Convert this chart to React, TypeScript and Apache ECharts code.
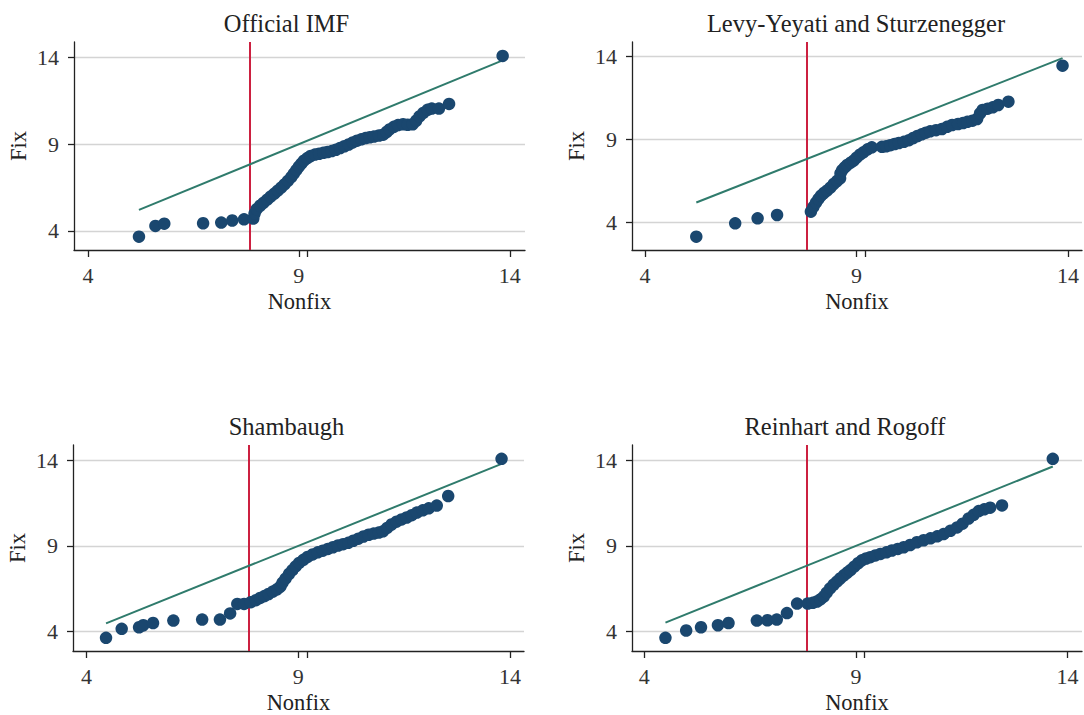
import React, { useEffect, useRef } from "react";
import * as echarts from "echarts";

// ---- Data ----
const titles = ["Official IMF", "Levy-Yeyati and Sturzenegger", "Shambaugh", "Reinhart and Rogoff"];

// Quantile pairs [Nonfix, Fix]
const imfPoints: number[][] = [
  [5.21, 3.67], [5.6, 4.29], [5.81, 4.42], [6.73, 4.44], [7.16, 4.48], [7.42, 4.6], [7.7, 4.67], [7.92, 4.71],
  [7.95, 5.0], [8.0, 5.25], [8.08, 5.45], [8.16, 5.62], [8.25, 5.8], [8.33, 5.98], [8.42, 6.15], [8.5, 6.32],
  [8.58, 6.5], [8.66, 6.68], [8.74, 6.88], [8.82, 7.1], [8.88, 7.3], [8.94, 7.5], [9.0, 7.7], [9.06, 7.88],
  [9.12, 8.05], [9.2, 8.2], [9.28, 8.32], [9.38, 8.4], [9.48, 8.45], [9.58, 8.5], [9.68, 8.55], [9.78, 8.6],
  [9.88, 8.68], [9.98, 8.78], [10.08, 8.88], [10.18, 8.98], [10.28, 9.1], [10.38, 9.2], [10.48, 9.28], [10.58, 9.35],
  [10.68, 9.4], [10.78, 9.44], [10.9, 9.5], [11.0, 9.55], [11.08, 9.7], [11.15, 9.85], [11.25, 10.0], [11.35, 10.1],
  [11.47, 10.15], [11.58, 10.12], [11.7, 10.15], [11.78, 10.35], [11.86, 10.6], [11.95, 10.8], [12.05, 10.98],
  [12.15, 11.05], [12.32, 11.05], [12.56, 11.32], [13.83, 14.09],
];
const lysPoints: number[][] = [
  [5.21, 3.16], [6.13, 3.96], [6.66, 4.26], [7.12, 4.46], [7.92, 4.66], [7.98, 4.95], [8.04, 5.2], [8.1, 5.42],
  [8.16, 5.62], [8.23, 5.78], [8.3, 5.92], [8.38, 6.1], [8.46, 6.32], [8.54, 6.5], [8.61, 6.66], [8.62, 6.95],
  [8.66, 7.15], [8.72, 7.32], [8.78, 7.46], [8.86, 7.6], [8.93, 7.72], [9.0, 7.9], [9.08, 8.08], [9.16, 8.22],
  [9.26, 8.4], [9.36, 8.52], [9.6, 8.55], [9.7, 8.58], [9.8, 8.65], [9.9, 8.72], [10.0, 8.78], [10.12, 8.85],
  [10.24, 8.95], [10.34, 9.08], [10.44, 9.2], [10.54, 9.3], [10.64, 9.4], [10.74, 9.48], [10.88, 9.55], [11.02, 9.62],
  [11.14, 9.75], [11.26, 9.86], [11.4, 9.92], [11.52, 9.98], [11.62, 10.05], [11.74, 10.12], [11.85, 10.22],
  [11.92, 10.55], [11.98, 10.76], [12.1, 10.84], [12.22, 10.92], [12.35, 11.06], [12.59, 11.26], [13.87, 13.42],
];
const shambaughPoints: number[][] = [
  [4.46, 3.61], [4.83, 4.14], [5.24, 4.23], [5.34, 4.35], [5.57, 4.48], [6.05, 4.62], [6.73, 4.68], [7.15, 4.68],
  [7.39, 5.04], [7.56, 5.6], [7.72, 5.6], [7.88, 5.7], [8.0, 5.82], [8.1, 5.95], [8.2, 6.06], [8.3, 6.18],
  [8.4, 6.32], [8.5, 6.46], [8.58, 6.62], [8.63, 6.85], [8.7, 7.08], [8.78, 7.35], [8.86, 7.58], [8.94, 7.8],
  [9.02, 8.0], [9.12, 8.18], [9.22, 8.35], [9.34, 8.5], [9.46, 8.62], [9.58, 8.72], [9.7, 8.82], [9.82, 8.92],
  [9.94, 9.02], [10.06, 9.1], [10.18, 9.18], [10.3, 9.3], [10.42, 9.42], [10.54, 9.55], [10.66, 9.65], [10.78, 9.72],
  [10.9, 9.78], [11.0, 9.85], [11.1, 10.05], [11.2, 10.25], [11.32, 10.42], [11.44, 10.55], [11.56, 10.66],
  [11.68, 10.8], [11.8, 10.95], [11.94, 11.08], [12.08, 11.2], [12.27, 11.36], [12.54, 11.92], [13.8, 14.1],
];
const rrPoints: number[][] = [
  [4.5, 3.61], [4.99, 4.04], [5.34, 4.23], [5.74, 4.35], [5.99, 4.48], [6.66, 4.62], [6.91, 4.64], [7.13, 4.68],
  [7.37, 5.06], [7.61, 5.62], [7.86, 5.62], [7.98, 5.66], [8.08, 5.74], [8.16, 5.86], [8.24, 6.03], [8.31, 6.26],
  [8.39, 6.51], [8.47, 6.72], [8.55, 6.9], [8.63, 7.09], [8.72, 7.28], [8.8, 7.44], [8.87, 7.58], [8.96, 7.78],
  [9.05, 7.98], [9.14, 8.15], [9.24, 8.26], [9.34, 8.34], [9.46, 8.44], [9.58, 8.53], [9.72, 8.62], [9.85, 8.73],
  [9.99, 8.82], [10.13, 8.92], [10.28, 9.05], [10.44, 9.21], [10.6, 9.33], [10.76, 9.44], [10.92, 9.56], [11.07, 9.69],
  [11.23, 9.88], [11.39, 10.08], [11.52, 10.3], [11.66, 10.6], [11.78, 10.82], [11.9, 11.04], [12.03, 11.14],
  [12.17, 11.24], [12.45, 11.37], [13.65, 14.1],
];

const tickLabels = [4, 9, 14];
const extraXTick = 9.2;
const cutoff = 7.83;

// ---- Layout / style ----
const FONT = "'Liberation Serif', 'DejaVu Serif', serif";
const NAVY = "#1a476f";
const GREEN = "#2f7b6c";
const RED = "#cc2040";

const grids = [
  { left: 74, top: 42, width: 451, height: 208 },
  { left: 632, top: 42, width: 450, height: 208 },
  { left: 73, top: 445, width: 451, height: 208 },
  { left: 632, top: 445, width: 450, height: 208 },
];
const xRanges = [[3.67, 14.36], [3.69, 14.33], [3.68, 14.33], [3.71, 14.34]];
const yRanges = [[2.9, 14.89], [2.36, 14.84], [2.84, 14.91], [2.84, 14.91]];
const titlePos = [
  { left: 281.5, top: 6 },
  { left: 851, top: 6 },
  { left: 281.5, top: 409 },
  { left: 840, top: 409 },
];

export default function App() {
  const ref = useRef<HTMLDivElement>(null);
  useEffect(() => {
    if (!ref.current) return;
    const chart = echarts.init(ref.current, undefined, { renderer: "svg" });
    const panels = [imfPoints, lysPoints, shambaughPoints, rrPoints];

    const series: any[] = [];
    panels.forEach((pts, i) => {
      const xs = pts.map((p) => p[0]);
      const lo = Math.min(...xs);
      const hi = Math.max(...xs);
      series.push({
        type: "line",
        xAxisIndex: i,
        yAxisIndex: i,
        data: [[lo, lo], [hi, hi]],
        showSymbol: false,
        lineStyle: { color: GREEN, width: 2 },
        silent: true,
        z: 3,
      });
      series.push({
        type: "scatter",
        xAxisIndex: i,
        yAxisIndex: i,
        data: pts,
        symbolSize: 12.5,
        itemStyle: { color: NAVY, opacity: 1 },
        z: 4,
        markLine: {
          silent: true,
          symbol: "none",
          label: { show: false },
          lineStyle: { color: RED, width: 2, type: "solid" },
          data: [{ xAxis: cutoff }],
          z: 2,
        },
      });
    });

    const axisCommon = {
      axisLine: { show: true, onZero: false, lineStyle: { color: "#222", width: 1.3 } },
      axisLabel: {
        customValues: tickLabels,
        color: "#333",
        fontFamily: FONT,
        fontSize: 22,
      },
    };

    chart.setOption({
      animation: false,
      backgroundColor: "#fff",
      title: titles.map((t, i) => ({
        text: t,
        left: titlePos[i].left,
        top: titlePos[i].top,
        textAlign: "center",
        textStyle: { fontFamily: FONT, fontSize: 24.5, fontWeight: "normal", color: "#222" },
      })),
      grid: grids.map((g) => ({ ...g, containLabel: false })),
      xAxis: grids.map((_, i) => ({
        gridIndex: i,
        type: "value",
        min: xRanges[i][0],
        max: xRanges[i][1],
        name: "Nonfix",
        nameLocation: "middle",
        nameGap: 40,
        nameTextStyle: { fontFamily: FONT, fontSize: 22.5, color: "#222" },
        ...axisCommon,
        axisLabel: { ...axisCommon.axisLabel, margin: 14 },
        axisTick: { show: true, customValues: [...tickLabels, extraXTick], length: 7, lineStyle: { color: "#222", width: 1.3 } },
        splitLine: { show: false },
      })),
      yAxis: grids.map((_, i) => ({
        gridIndex: i,
        type: "value",
        min: yRanges[i][0],
        max: yRanges[i][1],
        name: "Fix",
        nameLocation: "middle",
        nameGap: 44,
        nameRotate: 90,
        nameTextStyle: { fontFamily: FONT, fontSize: 22.5, color: "#222" },
        ...axisCommon,
        axisLabel: { ...axisCommon.axisLabel, margin: 15 },
        axisTick: { show: true, customValues: tickLabels, length: 6, lineStyle: { color: "#222", width: 1.3 } },
        splitLine: { show: true, lineStyle: { color: "#d4d4d4", width: 1.3 } },
      })),
      series,
    });
    return () => chart.dispose();
  }, []);
  return (
    <div
      ref={ref}
      style={{ position: "absolute", left: 0, top: 0, width: 1084, height: 715, background: "#fff" }}
    />
  );
}
